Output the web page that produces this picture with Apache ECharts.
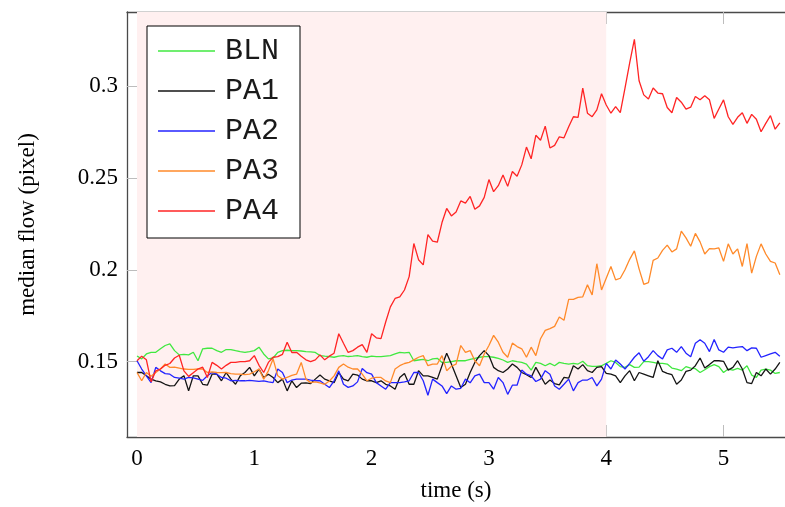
<!DOCTYPE html>
<html><head><meta charset="utf-8">
<script src="https://cdn.jsdelivr.net/npm/echarts@6/dist/echarts.min.js"></script>
<style>html,body{margin:0;padding:0;background:#fff}#c{width:785px;height:507px}</style>
</head><body><div id="c"></div><script>
const dt = 0.04;
const names = ['BLN','PA1','PA2','PA3','PA4'];
const bln = [0.1531,0.1515,0.1542,0.1551,0.1551,0.157,0.1588,0.1597,0.156,0.1537,
0.154,0.1537,0.1551,0.1505,0.157,0.1573,0.1573,0.156,0.1551,0.1566,
0.1566,0.156,0.1555,0.1551,0.1555,0.156,0.1579,0.1542,0.1515,0.152,
0.1551,0.156,0.1562,0.156,0.156,0.1558,0.1555,0.1553,0.155,0.1533,
0.153,0.1528,0.1524,0.153,0.1533,0.1528,0.153,0.1533,0.1528,0.1524,
0.153,0.1527,0.1527,0.153,0.1533,0.1542,0.1551,0.1548,0.1551,0.1505,
0.1509,0.1512,0.1505,0.1515,0.1518,0.1496,0.1496,0.15,0.1505,0.1505,
0.1505,0.1512,0.1518,0.1524,0.1527,0.1527,0.1524,0.1518,0.1509,0.1496,
0.1505,0.15,0.1496,0.1487,0.1454,0.1496,0.1491,0.1478,0.1491,0.1478,
0.1496,0.1491,0.1487,0.1491,0.1487,0.1502,0.1478,0.1474,0.1474,0.1478,
0.1491,0.1505,0.1496,0.1473,0.1469,0.1484,0.1469,0.147,0.15,0.15,
0.1496,0.1491,0.1491,0.1487,0.1465,0.146,0.1451,0.1473,0.1465,0.1462,
0.1441,0.1456,0.1473,0.1484,0.1473,0.1441,0.146,0.1454,0.1463,0.1454,
0.1478,0.1427,0.1414,0.1454,0.146,0.1454,0.1436,0.1441];
const pa1 = [0.1441,0.1441,0.1423,0.1405,0.1396,0.139,0.1377,0.1368,0.137,0.1405,
0.1423,0.1341,0.1423,0.1423,0.1377,0.1372,0.1432,0.1432,0.1396,0.1441,
0.1405,0.1377,0.1423,0.1441,0.1469,0.1423,0.146,0.1414,0.1432,0.1414,
0.1386,0.1405,0.1341,0.1396,0.1359,0.1383,0.1385,0.1381,0.1405,0.1427,
0.1405,0.1396,0.1386,0.1441,0.1405,0.1396,0.1432,0.1427,0.1405,0.1396,
0.1396,0.1386,0.1396,0.1377,0.1368,0.135,0.1414,0.1436,0.1377,0.1377,
0.1451,0.1423,0.1423,0.1414,0.1405,0.1478,0.1546,0.1487,0.1423,0.1359,
0.1377,0.1441,0.1496,0.1533,0.156,0.1533,0.1469,0.1451,0.1441,0.146,
0.1487,0.1469,0.1441,0.1429,0.1414,0.1469,0.1423,0.1377,0.14,0.1381,
0.1374,0.1414,0.141,0.1478,0.146,0.1484,0.1451,0.1441,0.1469,0.1473,
0.1436,0.1432,0.1423,0.1386,0.1423,0.1451,0.1396,0.1441,0.1432,0.1423,
0.1414,0.1505,0.1447,0.1436,0.1429,0.1377,0.14,0.1447,0.1454,0.1478,
0.152,0.1465,0.1484,0.1505,0.1505,0.1502,0.1454,0.1469,0.1505,0.146,
0.1386,0.1381,0.1441,0.1423,0.146,0.1432,0.146,0.1496];
const pa2 = [0.1505,0.146,0.1423,0.1386,0.1469,0.145,0.1435,0.1432,0.1414,0.141,
0.1405,0.1414,0.1412,0.1405,0.1398,0.1423,0.1441,0.1432,0.1414,0.141,
0.1396,0.1398,0.1396,0.1396,0.1398,0.1396,0.1393,0.1396,0.139,0.1386,
0.146,0.1441,0.1386,0.14,0.1405,0.1405,0.1405,0.14,0.1396,0.1396,
0.1377,0.1359,0.1396,0.145,0.1377,0.136,0.1368,0.139,0.1463,0.144,
0.1432,0.1386,0.1368,0.135,0.1386,0.1386,0.1386,0.139,0.1396,0.1441,
0.1441,0.1396,0.1317,0.1405,0.1386,0.1368,0.1326,0.1368,0.135,0.1355,
0.1405,0.1385,0.1423,0.1432,0.1386,0.1386,0.135,0.1414,0.1386,0.1322,
0.1372,0.1372,0.1454,0.1432,0.1423,0.1392,0.1405,0.1451,0.1432,0.1368,
0.135,0.1377,0.1405,0.1341,0.1386,0.14,0.14,0.1414,0.1368,0.1405,
0.1491,0.146,0.1509,0.1487,0.146,0.1491,0.1524,0.1548,0.1502,0.1527,
0.156,0.1533,0.1515,0.1564,0.1573,0.1551,0.1582,0.1546,0.1527,0.16,
0.1619,0.16,0.1555,0.1621,0.1564,0.1551,0.1579,0.1575,0.1579,0.1582,
0.156,0.1575,0.1573,0.1524,0.1533,0.1542,0.1551,0.1529];
const pa3 = [0.1441,0.1396,0.1441,0.142,0.1441,0.146,0.1487,0.1469,0.147,0.1465,
0.146,0.1458,0.1458,0.146,0.146,0.1441,0.1445,0.1441,0.144,0.1441,
0.1435,0.1432,0.1432,0.143,0.1432,0.1445,0.146,0.1405,0.145,0.1515,
0.1423,0.1405,0.1415,0.1425,0.1432,0.1496,0.1405,0.1386,0.139,0.1385,
0.1377,0.1395,0.1423,0.1469,0.1487,0.147,0.146,0.146,0.1432,0.1396,
0.141,0.1414,0.1414,0.1395,0.1386,0.146,0.1478,0.149,0.1496,0.151,
0.1524,0.1533,0.1478,0.1487,0.1487,0.1533,0.1451,0.1475,0.1487,0.1588,
0.1551,0.156,0.1505,0.1478,0.1542,0.1588,0.1643,0.1606,0.1551,0.1524,
0.1601,0.1582,0.157,0.1524,0.1579,0.1533,0.1625,0.167,0.168,0.1692,
0.1743,0.1725,0.1839,0.1839,0.185,0.1853,0.1918,0.1863,0.2033,0.189,
0.1954,0.2018,0.1945,0.1954,0.2,0.2057,0.2103,0.2005,0.1921,0.193,
0.2051,0.2064,0.2106,0.2134,0.2097,0.2114,0.221,0.2174,0.2128,0.2198,
0.2152,0.2086,0.2115,0.2114,0.2119,0.2046,0.2141,0.2086,0.2114,0.2018,
0.2143,0.1982,0.2073,0.2141,0.2086,0.2046,0.2037,0.1973];
const pa4 = [0.1505,0.153,0.151,0.139,0.145,0.146,0.148,0.149,0.152,0.1535,
0.145,0.142,0.144,0.146,0.147,0.1414,0.1496,0.148,0.146,0.148,
0.1496,0.1496,0.15,0.15,0.1505,0.1533,0.148,0.1441,0.1496,0.1524,
0.1527,0.154,0.1606,0.155,0.1551,0.153,0.151,0.15,0.151,0.1537,
0.151,0.153,0.1546,0.1652,0.16,0.155,0.156,0.1579,0.1593,0.1551,
0.1652,0.163,0.1625,0.1716,0.1798,0.1844,0.1853,0.189,0.1963,0.2143,
0.2055,0.2027,0.2192,0.2156,0.215,0.2257,0.2334,0.2293,0.2315,0.2375,
0.2363,0.2399,0.233,0.2348,0.2394,0.2491,0.2425,0.2458,0.2516,0.2454,
0.2535,0.2509,0.2571,0.2668,0.2604,0.2732,0.2705,0.2782,0.2663,0.2677,
0.2724,0.2718,0.2778,0.2833,0.283,0.2989,0.2852,0.2833,0.287,0.2958,
0.2897,0.2852,0.2888,0.2855,0.2989,0.3126,0.3254,0.3029,0.2952,0.293,
0.2989,0.2962,0.2958,0.2883,0.2855,0.2938,0.2912,0.2874,0.2885,0.2943,
0.2925,0.2947,0.2925,0.2824,0.2875,0.2925,0.2833,0.2791,0.283,0.2855,
0.2797,0.2846,0.2819,0.2751,0.2797,0.2839,0.2765,0.28];
const xTicks = [0,1,2,3,4,5];
const yTicks = [0.15,0.2,0.25,0.3];
const shadeRange = [0,4];
const colors = ['#40e840','#141414','#2323ff','#ff8a2a','#ff2424'];
const values = [bln,pa1,pa2,pa3,pa4];

const time = bln.map((_, i) => +(i*dt).toFixed(2));
const X_MIN = -0.0853, X_MAX = 5.524, Y_MIN = 0.109, Y_MAX = 0.3403;
const serif = 'Liberation Serif';
const axisLineStyle = {color:'#4a4a4a', width:1.3};
const tickStyle = {color:'#bdbdbd', width:1};

const chart = echarts.init(document.getElementById('c'), null, {renderer:'canvas'});
const series = [{
  name:'shade', type:'line', data:[[0,0.2]], symbol:'none', lineStyle:{opacity:0}, z:0, silent:true,
  markArea:{silent:true, itemStyle:{color:'#fff0f0'}, data:[[{xAxis:shadeRange[0]},{xAxis:shadeRange[1]}]]}
}];
names.forEach((n, k) => {
  series.push({
    name:n, type:'line', symbol:'none', z:2+k,
    data: time.map((t,i)=>[t, values[k][i]]),
    lineStyle:{color:colors[k], width:1.3}, itemStyle:{color:colors[k]}
  });
});

chart.setOption({
  animation:false,
  backgroundColor:'#fff',
  grid:{left:127, top:12, right:0, bottom:70},
  legend:{
    orient:'vertical', left:147, top:26, padding:[10,21,12,11], itemGap:10,
    icon:'rect', itemWidth:57, itemHeight:1.5, borderColor:'#000', borderWidth:1, borderRadius:0,
    backgroundColor:'#fff', data:names,
    textStyle:{fontFamily:'Liberation Mono', fontSize:30, color:'#1a1a1a', lineHeight:30, padding:[0,0,0,5]}
  },
  xAxis:[{
    type:'value', position:'bottom', min:X_MIN, max:X_MAX,
    axisLine:{show:true, onZero:false, lineStyle:axisLineStyle},
    axisTick:{show:true, inside:true, length:12, customValues:xTicks, lineStyle:tickStyle},
    axisLabel:{customValues:xTicks, fontFamily:serif, fontSize:23, color:'#000', margin:10},
    splitLine:{show:false},
    name:'time (s)', nameLocation:'middle', nameGap:42,
    nameTextStyle:{fontFamily:serif, fontSize:23, color:'#000'}
  },{
    type:'value', position:'top', min:X_MIN, max:X_MAX,
    axisLine:{show:true, onZero:false, lineStyle:axisLineStyle},
    axisTick:{show:true, inside:true, length:12, customValues:xTicks, lineStyle:tickStyle},
    axisLabel:{show:false}, splitLine:{show:false}
  }],
  yAxis:[{
    type:'value', position:'left', min:Y_MIN, max:Y_MAX,
    axisLine:{show:true, onZero:false, lineStyle:axisLineStyle},
    axisTick:{show:true, inside:true, length:12, customValues:yTicks, lineStyle:tickStyle},
    axisLabel:{customValues:yTicks, fontFamily:serif, fontSize:23, color:'#000', margin:9},
    splitLine:{show:false},
    name:'median flow (pixel)', nameLocation:'middle', nameGap:88,
    nameTextStyle:{fontFamily:serif, fontSize:23, color:'#000'}
  },{
    type:'value', position:'right', min:Y_MIN, max:Y_MAX,
    axisLine:{show:false},
    axisTick:{show:true, inside:true, length:6, customValues:yTicks, lineStyle:tickStyle},
    axisLabel:{show:false}, splitLine:{show:false}
  }],
  series: series
});
</script></body></html>
